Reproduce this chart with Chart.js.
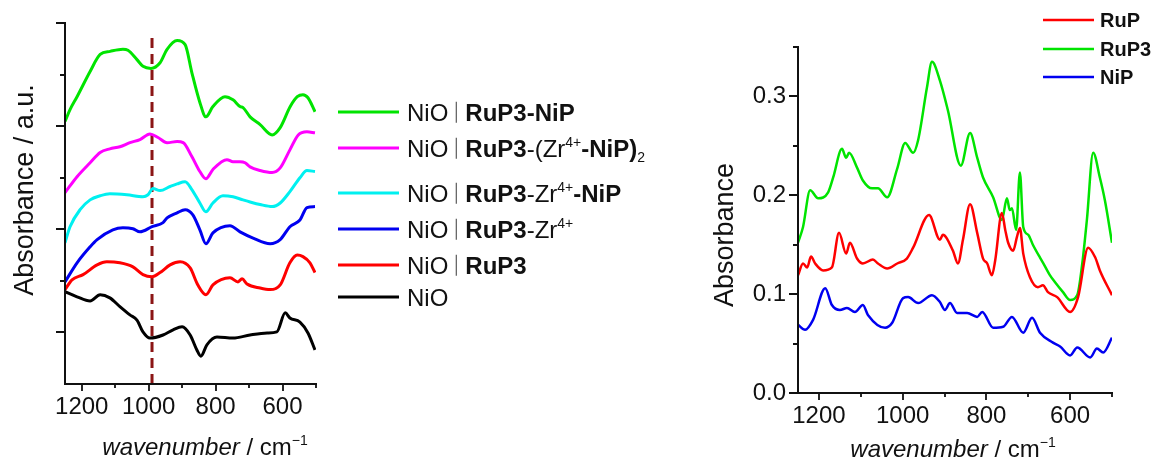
<!DOCTYPE html>
<html>
<head>
<meta charset="utf-8">
<script src="https://cdn.jsdelivr.net/npm/chart.js@4.4.0/dist/chart.umd.min.js"></script>
<style>
  html, body { margin: 0; padding: 0; background: #fff; }
  #wrap { position: relative; width: 1157px; height: 466px; overflow: hidden; }
  #cLeft { position: absolute; left: 0; top: 0; }
  #cRight { position: absolute; left: 700px; top: 0; }
</style>
</head>
<body>
<div id="wrap">
  <canvas id="cLeft" width="700" height="466"></canvas>
  <canvas id="cRight" width="457" height="466"></canvas>
</div>
<script>
const FONT = '"Liberation Sans", Arial, Helvetica, sans-serif';

// shared wavenumber axis (cm-1)
const wnTicks = [1200, 1100, 1000, 900, 800, 700, 600, 500];
const wnLabels = ['1200', '', '1000', '', '800', '', '600', ''];

// left panel: offset spectra, arbitrary units
const offsetTicks = [1, 2, 3, 4, 5, 6, 7];
const offsetMajor = [true, false, true, false, true, false, true];

// right panel: absorbance
const absTicks = [0, 0.05, 0.1, 0.15, 0.2, 0.25, 0.3, 0.35];
const absLabels = ['0.0', '', '0.1', '', '0.2', '', '0.3', ''];

// [wavenumber, absorbance + offset]
const nioRuP3NiP = [[1250,5.09],[1235,5.32],[1214,5.57],[1175,6.06],[1145,6.39],[1115,6.45],[1077,6.49],[1062,6.47],[1035,6.29],[1017,6.16],[993,6.12],[966,6.23],[945,6.49],[915,6.66],[891,6.58],[871,6.04],[847,5.46],[829,5.18],[808,5.38],[772,5.57],[748,5.51],[727,5.38],[718,5.36],[697,5.18],[667,5.03],[631,4.83],[607,4.97],[577,5.38],[556,5.57],[539,5.61],[524,5.55],[503,5.28]];
const nioRuP3ZrNiP2 = [[1250,3.71],[1214,4.02],[1175,4.29],[1145,4.49],[1116,4.56],[1086,4.60],[1056,4.68],[1026,4.74],[996,4.85],[972,4.78],[945,4.68],[915,4.70],[897,4.68],[871,4.41],[847,4.12],[829,3.98],[808,4.16],[766,4.35],[748,4.31],[727,4.31],[712,4.29],[697,4.21],[667,4.14],[631,4.10],[607,4.19],[578,4.54],[553,4.83],[527,4.89],[503,4.87]];
const nioRuP3ZrNiP = [[1250,2.74],[1235,3.05],[1205,3.38],[1175,3.57],[1145,3.65],[1116,3.69],[1065,3.67],[1017,3.63],[1002,3.67],[987,3.79],[966,3.75],[936,3.83],[915,3.88],[891,3.92],[871,3.77],[847,3.51],[829,3.34],[808,3.51],[778,3.65],[748,3.63],[718,3.57],[697,3.53],[667,3.48],[631,3.44],[607,3.51],[578,3.73],[548,4.00],[527,4.14],[503,4.12]];
const nioRuP3Zr = [[1250,1.98],[1214,2.35],[1175,2.66],[1154,2.80],[1107,2.99],[1077,3.03],[1047,3.01],[1026,2.95],[990,3.05],[957,3.13],[945,3.22],[915,3.32],[891,3.38],[868,3.28],[847,2.99],[829,2.72],[808,2.93],[757,3.07],[727,2.95],[688,2.83],[637,2.72],[607,2.80],[578,3.05],[548,3.18],[527,3.42],[503,3.44]];
const nioRuP3 = [[1250,1.83],[1229,2.02],[1196,2.12],[1154,2.31],[1125,2.37],[1086,2.35],[1047,2.27],[1017,2.12],[990,2.08],[966,2.16],[936,2.31],[906,2.37],[876,2.25],[853,1.92],[829,1.73],[808,1.92],[757,2.06],[733,1.98],[721,2.04],[706,1.94],[667,1.86],[637,1.83],[607,1.92],[578,2.35],[556,2.50],[539,2.47],[518,2.35],[503,2.16]];
const nioBare = [[1250,1.79],[1214,1.69],[1175,1.61],[1145,1.73],[1116,1.67],[1086,1.50],[1056,1.34],[1035,1.24],[1017,1.01],[996,0.89],[957,0.95],[927,1.05],[900,1.11],[876,0.95],[856,0.66],[844,0.54],[826,0.76],[796,0.91],[748,0.89],[697,0.95],[646,0.99],[617,1.01],[592,1.38],[578,1.28],[548,1.20],[524,0.99],[503,0.66]];

// reference line
const markerWn = 990;
const markerSpan = [0, 6.82];

// [wavenumber, absorbance]
const ruP = [[1250,0.119],[1238,0.131],[1228,0.127],[1219,0.138],[1209,0.131],[1190,0.124],[1169,0.127],[1152,0.162],[1135,0.141],[1126,0.152],[1109,0.136],[1095,0.131],[1071,0.135],[1059,0.131],[1037,0.126],[1013,0.131],[990,0.136],[975,0.147],[937,0.180],[911,0.155],[904,0.160],[880,0.144],[868,0.131],[856,0.155],[839,0.191],[822,0.162],[808,0.136],[798,0.131],[787,0.119],[779,0.134],[763,0.182],[755,0.165],[748,0.152],[736,0.144],[727,0.158],[720,0.167],[712,0.141],[696,0.117],[677,0.107],[665,0.109],[653,0.102],[631,0.097],[600,0.082],[581,0.097],[557,0.147],[540,0.137],[529,0.124],[500,0.099]];
const ruP3 = [[1250,0.152],[1238,0.168],[1221,0.205],[1202,0.197],[1178,0.203],[1166,0.218],[1145,0.247],[1135,0.238],[1128,0.243],[1109,0.228],[1095,0.215],[1073,0.207],[1059,0.207],[1037,0.198],[1013,0.227],[994,0.253],[975,0.243],[963,0.256],[942,0.309],[930,0.335],[911,0.316],[892,0.286],[861,0.230],[839,0.263],[822,0.238],[808,0.218],[784,0.198],[763,0.175],[751,0.197],[744,0.185],[739,0.187],[729,0.165],[720,0.223],[712,0.168],[700,0.160],[689,0.150],[672,0.137],[665,0.132],[648,0.119],[636,0.112],[617,0.102],[600,0.094],[583,0.099],[571,0.131],[560,0.175],[545,0.243],[529,0.218],[517,0.195],[500,0.152]];
const niP = [[1250,0.069],[1233,0.064],[1214,0.074],[1185,0.106],[1169,0.089],[1150,0.084],[1133,0.086],[1114,0.082],[1095,0.089],[1083,0.079],[1042,0.066],[1025,0.071],[999,0.096],[987,0.097],[963,0.091],[930,0.099],[911,0.092],[899,0.084],[887,0.091],[870,0.081],[846,0.081],[822,0.077],[810,0.082],[784,0.066],[760,0.067],[739,0.077],[712,0.061],[691,0.076],[672,0.061],[641,0.051],[624,0.047],[600,0.038],[583,0.046],[552,0.036],[536,0.045],[521,0.041],[500,0.056]];

// legend text as [text, style] runs
const leftNames = [
  [['NiO'], ['', 'bar'], ['RuP3-NiP', 'b']],
  [['NiO'], ['', 'bar'], ['RuP3', 'b'], ['-(Zr'], ['4+', 'sup'], ['-NiP', 'b'], [')', 'b'], ['2', 'sub']],
  [['NiO'], ['', 'bar'], ['RuP3', 'b'], ['-Zr'], ['4+', 'sup'], ['-NiP', 'b']],
  [['NiO'], ['', 'bar'], ['RuP3', 'b'], ['-Zr'], ['4+', 'sup']],
  [['NiO'], ['', 'bar'], ['RuP3', 'b']],
  [['NiO']]
];
const xTitle = [['wavenumber', 'i'], [' / cm'], ['\u22121', 'sup']];

const toXY = arr => arr.map(p => ({ x: p[0], y: p[1] }));

function runFont(style, size) {
  const small = style === 'sup' || style === 'sub';
  const s = small ? Math.round(size * 0.6) : size;
  return (style === 'i' ? 'italic ' : '') + (style === 'b' ? 'bold ' : '') + s + 'px ' + FONT;
}

function runsWidth(ctx, runs, size) {
  let w = 0;
  runs.forEach(([t, st]) => {
    if (st === 'bar') { w += 17; return; }
    ctx.font = runFont(st, size);
    w += ctx.measureText(t).width;
  });
  return w;
}

function drawRuns(ctx, runs, x, base, size) {
  let cx = x;
  runs.forEach(([t, st]) => {
    if (st === 'bar') {
      cx += 8;
      ctx.save();
      ctx.strokeStyle = '#666';
      ctx.lineWidth = 1.3;
      ctx.beginPath();
      ctx.moveTo(cx, base - 19);
      ctx.lineTo(cx, base + 2);
      ctx.stroke();
      ctx.restore();
      cx += 9;
      return;
    }
    ctx.font = runFont(st, size);
    const dy = st === 'sup' ? -size * 0.42 : st === 'sub' ? size * 0.22 : 0;
    ctx.fillText(t, cx, base + dy);
    cx += ctx.measureText(t).width;
  });
}

// axis lines, outward ticks, titles and legend
function makeDecor(cfg) {
  return {
    id: 'decor',
    afterDatasetsDraw(chart) {
      const { ctx, chartArea: a, scales } = chart;
      ctx.save();
      ctx.strokeStyle = '#111';
      ctx.lineWidth = 2;
      ctx.beginPath();
      ctx.moveTo(a.left, a.top - 1);
      ctx.lineTo(a.left, a.bottom);
      ctx.lineTo(a.right + 1, a.bottom);
      ctx.stroke();
      ctx.lineWidth = 1.8;
      ctx.beginPath();
      cfg.xTicks.forEach((v, i) => {
        const px = Math.round(scales.x.getPixelForValue(v));
        const len = cfg.xMajor[i] ? 7 : 4;
        ctx.moveTo(px, a.bottom);
        ctx.lineTo(px, a.bottom + len);
      });
      cfg.yTicks.forEach((v, i) => {
        const py = Math.round(scales.y.getPixelForValue(v));
        const len = cfg.yMajor[i] ? 9 : 5;
        ctx.moveTo(a.left, py);
        ctx.lineTo(a.left - len, py);
      });
      ctx.stroke();
      ctx.restore();
    },
    afterDraw(chart) {
      const ctx = chart.ctx;
      ctx.save();
      ctx.fillStyle = '#111';
      ctx.textBaseline = 'alphabetic';
      ctx.textAlign = 'left';

      // y title, rotated
      ctx.save();
      ctx.translate(cfg.yTitle.x, cfg.yTitle.y);
      ctx.rotate(-Math.PI / 2);
      ctx.font = '27px ' + FONT;
      ctx.textAlign = 'center';
      ctx.fillText(cfg.yTitle.text, 0, 0);
      ctx.restore();

      // x title
      const w = runsWidth(ctx, xTitle, 24);
      drawRuns(ctx, xTitle, cfg.xTitle.x - w / 2, cfg.xTitle.y, 24);

      // legend
      const L = cfg.legend;
      chart.data.datasets.forEach((ds, i) => {
        if (i >= L.rows.length) return;
        const y = L.rows[i];
        ctx.strokeStyle = ds.borderColor;
        ctx.lineWidth = L.lineWidth;
        ctx.beginPath();
        ctx.moveTo(L.x0, y);
        ctx.lineTo(L.x1, y);
        ctx.stroke();
        ctx.fillStyle = '#111';
        const runs = L.names ? L.names[i] : [[ds.label, 'b']];
        drawRuns(ctx, runs, L.tx, y + L.size * 0.36, L.size);
      });
      ctx.restore();
    }
  };
}

function wnScale(height) {
  return {
    type: 'linear', reverse: true, min: 500, max: 1250,
    afterBuildTicks: s => { s.ticks = wnTicks.map(v => ({ value: v })); },
    afterFit: s => { s.height = height; },
    grid: { display: false, drawTicks: false },
    border: { display: false },
    ticks: {
      autoSkip: false, maxRotation: 0, padding: 9, color: '#111',
      font: { family: FONT, size: 24 },
      callback: v => wnLabels[wnTicks.indexOf(v)] || ''
    }
  };
}

const line = (label, pts, color, width) => ({
  label, data: toXY(pts), borderColor: color, borderWidth: width,
  pointRadius: 0, cubicInterpolationMode: 'monotone', fill: false
});

new Chart(document.getElementById('cLeft'), {
  type: 'line',
  data: {
    datasets: [
      line('NiO|RuP3-NiP', nioRuP3NiP, '#00E400', 3),
      line('NiO|RuP3-(Zr4+-NiP)2', nioRuP3ZrNiP2, '#FF00FF', 3),
      line('NiO|RuP3-Zr4+-NiP', nioRuP3ZrNiP, '#00F0F0', 3),
      line('NiO|RuP3-Zr4+', nioRuP3Zr, '#0000F0', 3),
      line('NiO|RuP3', nioRuP3, '#FF0000', 3),
      line('NiO', nioBare, '#000000', 3),
      {
        label: 'marker',
        data: markerSpan.map(v => ({ x: markerWn, y: v })),
        borderColor: '#8B1515', borderWidth: 3, borderDash: [10, 6],
        pointRadius: 0, fill: false
      }
    ]
  },
  options: {
    responsive: false, animation: false,
    layout: { padding: { left: 0, top: 23, right: 384, bottom: 0 } },
    plugins: { legend: { display: false }, tooltip: { enabled: false } },
    scales: {
      x: wnScale(82),
      y: {
        min: 0, max: 7,
        afterBuildTicks: s => { s.ticks = offsetTicks.map(v => ({ value: v })); },
        afterFit: s => { s.width = 65; },
        grid: { display: false, drawTicks: false },
        border: { display: false },
        ticks: { display: false }
      }
    }
  },
  plugins: [makeDecor({
    xTicks: wnTicks, xMajor: wnLabels.map(Boolean),
    yTicks: offsetTicks, yMajor: offsetMajor,
    yTitle: { x: 33, y: 190, text: 'Absorbance / a.u.' },
    xTitle: { x: 205, y: 455 },
    legend: { rows: [112, 148, 193, 229, 265, 297], x0: 338, x1: 399, tx: 407, size: 24, lineWidth: 3, names: leftNames }
  })]
});

new Chart(document.getElementById('cRight'), {
  type: 'line',
  data: {
    datasets: [
      line('RuP', ruP, '#FF0000', 2.5),
      line('RuP3', ruP3, '#00E400', 2.5),
      line('NiP', niP, '#0000F0', 2.5)
    ]
  },
  options: {
    responsive: false, animation: false,
    layout: { padding: { left: 0, top: 47, right: 45, bottom: 0 } },
    plugins: { legend: { display: false }, tooltip: { enabled: false } },
    scales: {
      x: wnScale(73),
      y: {
        min: 0, max: 0.35,
        afterBuildTicks: s => { s.ticks = absTicks.map(v => ({ value: v })); },
        afterFit: s => { s.width = 98; },
        grid: { display: false, drawTicks: false },
        border: { display: false },
        ticks: {
          padding: 12, color: '#111', autoSkip: false,
          font: { family: FONT, size: 24 },
          callback: v => absLabels[absTicks.indexOf(v)] || ''
        }
      }
    }
  },
  plugins: [makeDecor({
    xTicks: wnTicks, xMajor: wnLabels.map(Boolean),
    yTicks: absTicks, yMajor: absLabels.map(Boolean),
    yTitle: { x: 33, y: 235, text: 'Absorbance' },
    xTitle: { x: 253, y: 457 },
    legend: { rows: [20, 49, 77], x0: 343, x1: 394, tx: 400, size: 20, lineWidth: 2.5 }
  })]
});
</script>
</body>
</html>
